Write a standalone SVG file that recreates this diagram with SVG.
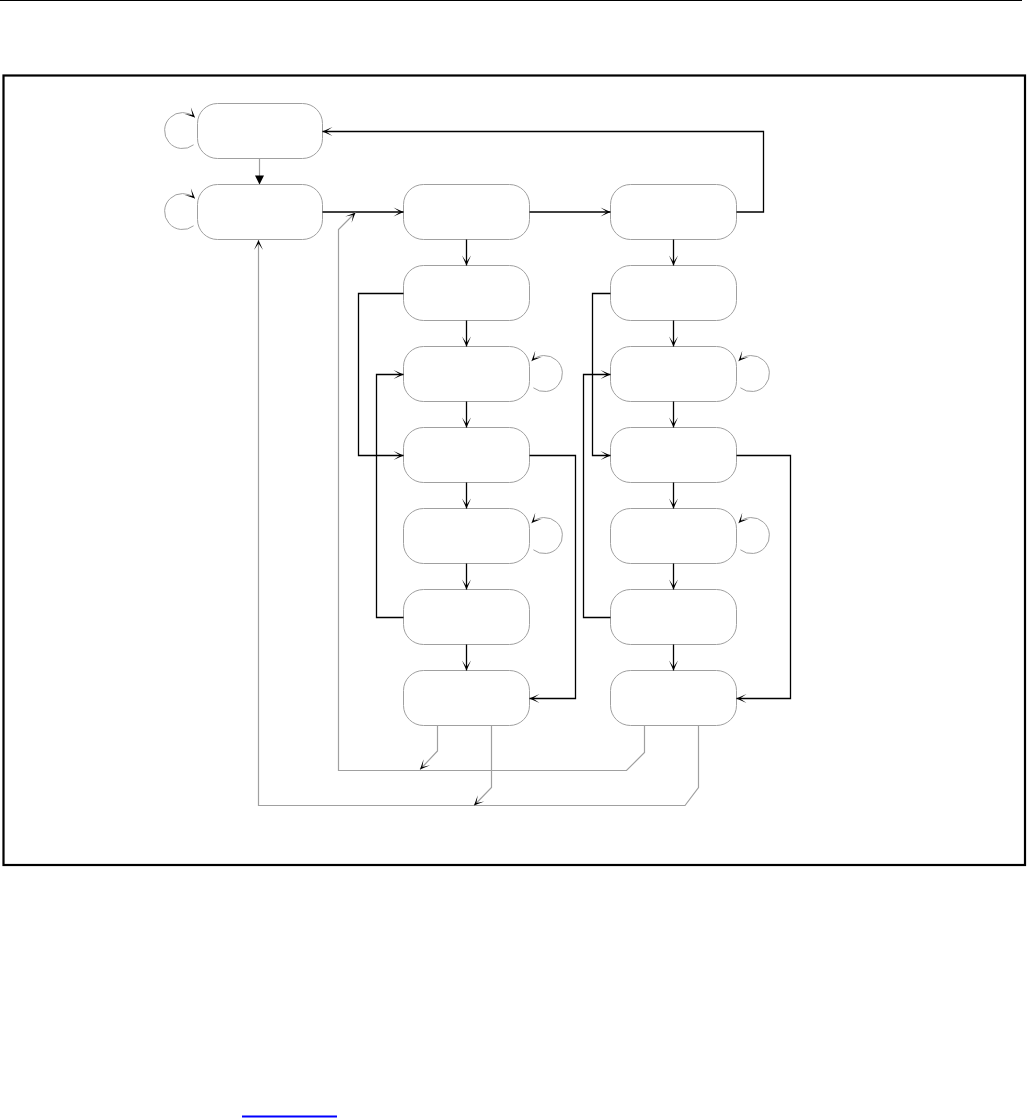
<svg xmlns="http://www.w3.org/2000/svg" width="1028" height="1118" viewBox="0 0 1028 1118">
<style>
.node{fill:#fff;stroke:#a0a0a0;stroke-width:1}
.c{fill:none;stroke:#000;stroke-width:1.3}
.g{fill:none;stroke:#a0a0a0;stroke-width:1.2}
.loop{fill:none;stroke:#a0a0a0;stroke-width:1}
</style>
<defs>
<marker id="ar" markerUnits="userSpaceOnUse" viewBox="-11 -6 12 12" refX="0" refY="0" markerWidth="12" markerHeight="12" orient="auto">
<path d="M0,0 L-10,-4.5 L-3.5,0 L-10,4.5 Z" fill="#000"/>
</marker>
<marker id="tri" markerUnits="userSpaceOnUse" viewBox="-10 -6 11 12" refX="0" refY="0" markerWidth="11" markerHeight="12" orient="auto">
<path d="M0,0 L-9,-4.5 L-9,4.5 Z" fill="#000"/>
</marker>
</defs>
<rect width="1028" height="1118" fill="#fff"/>
<line x1="0" y1="0.5" x2="1022" y2="0.5" stroke="#000" stroke-width="1"/>
<rect x="3.5" y="75.5" width="1021.5" height="789.5" fill="none" stroke="#000" stroke-width="2.2"/>

<g id="nodes">
<g id="n-a"><rect class="node" x="197.5" y="103.5" width="125" height="55" rx="20"/></g>
<g id="n-b"><rect class="node" x="197.5" y="184.5" width="125" height="55" rx="20"/></g>
<g id="n-c1"><rect class="node" x="403.5" y="184.5" width="126" height="55" rx="20"/></g>
<g id="n-c2"><rect class="node" x="403.5" y="265.5" width="126" height="55" rx="20"/></g>
<g id="n-c3"><rect class="node" x="403.5" y="346.5" width="126" height="55" rx="20"/></g>
<g id="n-c4"><rect class="node" x="403.5" y="427.5" width="126" height="55" rx="20"/></g>
<g id="n-c5"><rect class="node" x="403.5" y="508.5" width="126" height="55" rx="20"/></g>
<g id="n-c6"><rect class="node" x="403.5" y="589.5" width="126" height="55" rx="20"/></g>
<g id="n-c7"><rect class="node" x="403.5" y="670.5" width="126" height="55" rx="20"/></g>
<g id="n-d1"><rect class="node" x="610.5" y="184.5" width="126" height="55" rx="20"/></g>
<g id="n-d2"><rect class="node" x="610.5" y="265.5" width="126" height="55" rx="20"/></g>
<g id="n-d3"><rect class="node" x="610.5" y="346.5" width="126" height="55" rx="20"/></g>
<g id="n-d4"><rect class="node" x="610.5" y="427.5" width="126" height="55" rx="20"/></g>
<g id="n-d5"><rect class="node" x="610.5" y="508.5" width="126" height="55" rx="20"/></g>
<g id="n-d6"><rect class="node" x="610.5" y="589.5" width="126" height="55" rx="20"/></g>
<g id="n-d7"><rect class="node" x="610.5" y="670.5" width="126" height="55" rx="20"/></g>
</g>

<g id="connectors">
<!-- self loops -->
<path class="loop" d="M193.6,144.8 A18,18 0 1 1 195,117.5" marker-end="url(#ar)"/>
<path class="loop" d="M193.6,225.8 A18,18 0 1 1 195,198.5" marker-end="url(#ar)"/>
<path class="loop" d="M533.4,387.8 A18,18 0 1 0 531.5,361" marker-end="url(#ar)"/>
<path class="loop" d="M533.4,549.8 A18,18 0 1 0 531.5,523" marker-end="url(#ar)"/>
<path class="loop" d="M740.4,387.8 A18,18 0 1 0 738.5,361" marker-end="url(#ar)"/>
<path class="loop" d="M740.4,549.8 A18,18 0 1 0 738.5,523" marker-end="url(#ar)"/>

<!-- A to B -->
<line class="g" x1="259.5" y1="158.5" x2="259.5" y2="184.5" marker-end="url(#tri)"/>

<!-- horizontal top row -->
<line class="c" x1="322.5" y1="212" x2="403.5" y2="212" marker-end="url(#ar)"/>
<line class="c" x1="529.5" y1="212" x2="610.5" y2="212" marker-end="url(#ar)"/>
<path class="c" d="M736.5,212 H763.5 V131.5 H322.5" marker-end="url(#ar)"/>

<!-- column 1 verticals -->
<line class="c" x1="466.5" y1="239.5" x2="466.5" y2="265.5" stroke="#555" marker-end="url(#ar)"/>
<line class="c" x1="466.5" y1="320.5" x2="466.5" y2="346.5" marker-end="url(#ar)"/>
<line class="c" x1="466.5" y1="401.5" x2="466.5" y2="427.5" marker-end="url(#ar)"/>
<line class="c" x1="466.5" y1="482.5" x2="466.5" y2="508.5" marker-end="url(#ar)"/>
<line class="c" x1="466.5" y1="563.5" x2="466.5" y2="589.5" marker-end="url(#ar)"/>
<line class="c" x1="466.5" y1="644.5" x2="466.5" y2="670.5" marker-end="url(#ar)"/>

<!-- column 2 verticals -->
<line class="c" x1="673.5" y1="239.5" x2="673.5" y2="265.5" marker-end="url(#ar)"/>
<line class="c" x1="673.5" y1="320.5" x2="673.5" y2="346.5" marker-end="url(#ar)"/>
<line class="c" x1="673.5" y1="401.5" x2="673.5" y2="427.5" marker-end="url(#ar)"/>
<line class="c" x1="673.5" y1="482.5" x2="673.5" y2="508.5" marker-end="url(#ar)"/>
<line class="c" x1="673.5" y1="563.5" x2="673.5" y2="589.5" marker-end="url(#ar)"/>
<line class="c" x1="673.5" y1="644.5" x2="673.5" y2="670.5" marker-end="url(#ar)"/>

<!-- column 1 side connectors -->
<path class="c" d="M403.5,293.5 H358.5 V455.5 H403.5" marker-end="url(#ar)"/>
<path class="c" d="M403.5,617.5 H376.5 V374.5 H403.5" marker-end="url(#ar)"/>
<path class="c" d="M529.5,455.5 H575.5 V698.5 H529.5" marker-end="url(#ar)"/>

<!-- column 2 side connectors -->
<path class="c" d="M610.5,293.5 H592.5 V455.5 H610.5" marker-end="url(#ar)"/>
<path class="c" d="M610.5,617.5 H583.5 V374.5 H610.5" marker-end="url(#ar)"/>
<path class="c" d="M736.5,455.5 H790.5 V698.5 H736.5" marker-end="url(#ar)"/>

<!-- return paths -->
<path class="g" d="M644.5,726 V752.5 L626.5,770.5 H338.5 V229.5 L355.5,212.5" marker-end="url(#ar)"/>
<path class="g" d="M437.5,726 V751 L420,769.5" marker-end="url(#ar)"/>
<path class="g" d="M698.5,726 V787.5 L685,805.5 H258.5 V240" marker-end="url(#ar)"/>
<path class="g" d="M491.5,726 V787.5 L474,805.5" marker-end="url(#ar)"/>
</g>

<rect x="242" y="1115.5" width="95" height="2" fill="#0000ff"/>
</svg>
